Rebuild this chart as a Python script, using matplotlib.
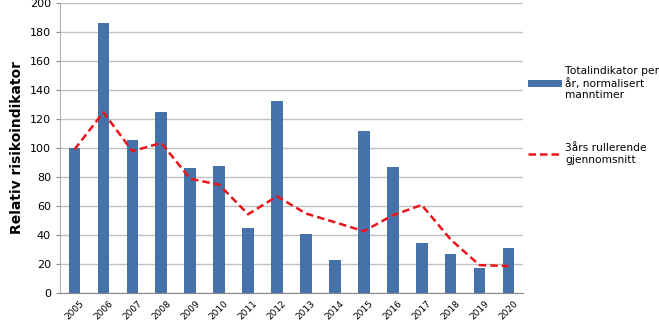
import numpy as np
import matplotlib.pyplot as plt

years = ['2005', '2006', '2007', '2008', '2009', '2010', '2011', '2012',
         '2013', '2014', '2015', '2016', '2017', '2018', '2019', '2020']
total = [100, 186, 105.5, 124.6, 86, 87.5, 44.5, 132.6,
         41, 23, 111.8, 87, 34.6, 26.8, 17, 30.7]
rullerende = [99, 124.6, 97.8, 103.5, 78.8, 74.7, 54.3, 66.7,
              54.8, 48.8, 42.6, 53.6, 60.7, 36.9, 19.2, 18.6]

x = np.arange(len(years))

fig = plt.figure(figsize=(6.59, 3.24), dpi=100)
ax = fig.add_axes([60/659, 1 - 293/324, 463/659, 290/324])

bars = ax.bar(x, total, width=0.4, color='#4672aa', zorder=2)
line, = ax.plot(x, rullerende, color='#e8151b', linestyle='--', linewidth=1.8,
                dashes=(3, 1.6), zorder=3)

ax.set_xlim(-0.5, len(years) - 0.5)
ax.set_ylim(0, 200)
ax.set_yticks(range(0, 201, 20))
ax.set_xticks(x)
ax.set_xticklabels(years, rotation=45, fontsize=6.5)
ax.tick_params(axis='y', labelsize=8, length=3, color='#888888')
ax.tick_params(axis='x', length=0, pad=4)
ax.grid(axis='y', color='#c0c0c0', linewidth=1, zorder=0)
for s in ['top', 'right']:
    ax.spines[s].set_visible(False)
ax.spines['left'].set_color('#b0b0b0')
ax.spines['bottom'].set_color('#888888')
ax.set_ylabel('Relativ risikoindikator', fontsize=10, fontweight='bold')

fig.legend([bars, line],
           ['Totalindikator per\når, normalisert\nmanntimer',
            '3års rullerende\ngjennomsnitt'],
           loc='upper left', bbox_to_anchor=(528/659, 1 - 66/324),
           frameon=False, fontsize=7.7, handlelength=3.2, handletextpad=0.3,
           labelspacing=4.0, borderpad=0, borderaxespad=0)

fig.savefig('out.png', dpi=100)
